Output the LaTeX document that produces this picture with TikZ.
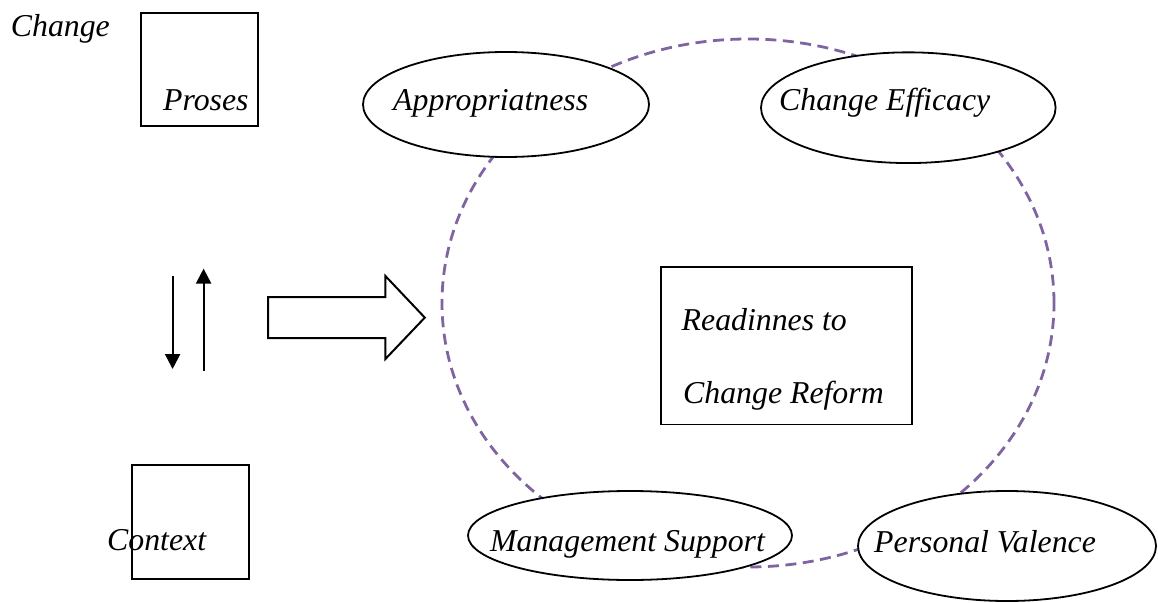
\documentclass[tikz,border=0pt]{standalone}
\usepackage{fontspec}
\setmainfont{Liberation Serif}
\usetikzlibrary{shapes.geometric,arrows.meta}
\definecolor{ringpurple}{RGB}{128,100,162}
\begin{document}
\begin{tikzpicture}[x=1pt,y=-1pt,
  lbl/.style={font=\fontsize{31.8}{38}\selectfont\itshape, inner sep=0pt, anchor=base west},
  sq/.style={draw, line width=2pt, inner sep=0pt},
  oval/.style={ellipse, draw, line width=1.8pt, fill=white, inner sep=0pt},
  ring/.style={ellipse, draw=ringpurple, line width=2.8pt, dash pattern=on 11pt off 6.5pt, inner sep=0pt},
  thin arrow/.style={line width=2.2pt, -{Triangle[length=15pt,width=15pt]}},
  block arrow/.style={draw, line width=2pt, fill=white}
]
\useasboundingbox (0,0) rectangle (1158,602);

% dashed ring joining the four factors
\node[ring, minimum width=612pt, minimum height=528pt] (ringnode) at (748,303) {};

% left column: process and context
\node[sq, minimum width=117pt, minimum height=113pt] (proses) at (199.5,69.5) {};
\node[lbl] (changelbl) at (10.7,37) {Change};
\node[lbl] (proseslbl) at (163,110.5) {Proses};

\node[sq, minimum width=117pt, minimum height=114pt] (context) at (190.2,522) {};
\node[lbl] (contextlbl) at (107,550.5) {Context};

% two-way arrows between process and context
\coordinate (dtop) at (172.6,275.5);
\coordinate (dbot) at (172.6,369);
\coordinate (ubot) at (203.6,371);
\coordinate (utop) at (203.6,268.6);
\draw[thin arrow] (dtop) -- (dbot);
\draw[thin arrow] (ubot) -- (utop);

% block arrow towards the ring
\coordinate (ba1) at (268,297);
\coordinate (ba2) at (385.4,297);
\coordinate (ba3) at (385.4,276);
\coordinate (batip) at (424.8,317.6);
\coordinate (ba5) at (385.4,359);
\coordinate (ba6) at (385.4,338);
\coordinate (ba7) at (268,338);
\draw[block arrow] (ba1) -- (ba2) -- (ba3) -- (batip) -- (ba5) -- (ba6) -- (ba7) -- cycle;

% factor ellipses
\node[oval, minimum width=286pt, minimum height=105pt] (appr) at (506,104.5) {};
\node[lbl] (apprlbl) at (393,110.5) {Appropriatness};

\node[oval, minimum width=294.6pt, minimum height=110.7pt] (eff) at (908.3,107.7) {};
\node[lbl] (efflbl) at (779,110.5) {Change Efficacy};

\node[oval, minimum width=324pt, minimum height=89pt] (mgmt) at (630,535.5) {};
\node[lbl] (mgmtlbl) at (490,551.5) {Management Support};

\node[oval, minimum width=298pt, minimum height=110pt] (val) at (1007,546) {};
\node[lbl] (vallbl) at (874,552) {Personal Valence};

% central construct
\node[sq, line width=1.8pt, minimum width=251pt, minimum height=157.5pt] (ready) at (786.5,345.75) {};
\node[lbl] (readylbl1) at (681.5,330) {Readinnes to};
\node[lbl] (readylbl2) at (683,403.5) {Change Reform};
\end{tikzpicture}
\end{document}
